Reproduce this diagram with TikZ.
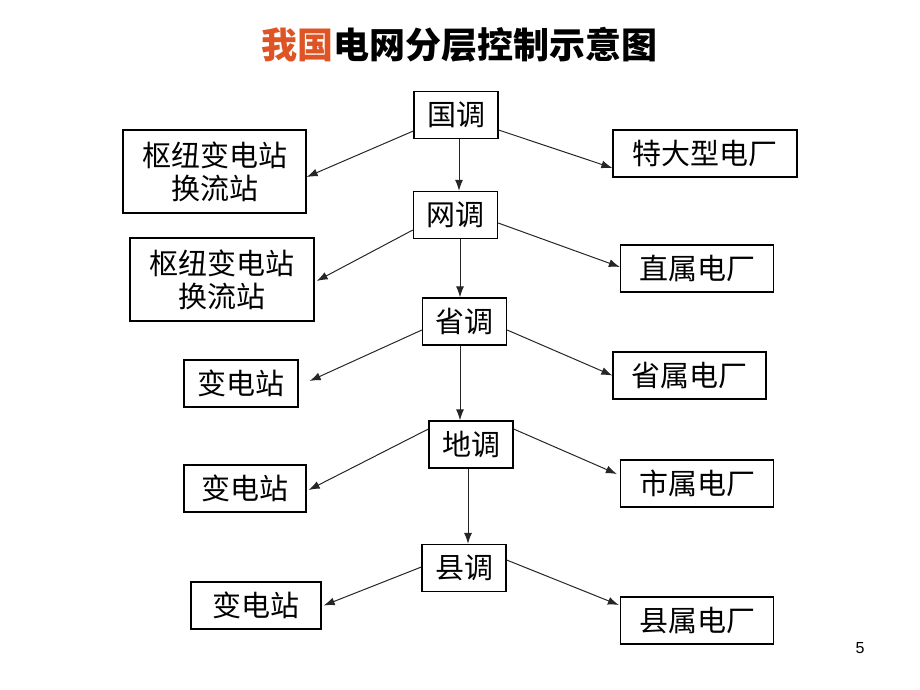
\documentclass[tikz,border=0pt]{standalone}
\usepackage{fontspec}
\setmainfont{Noto Sans CJK SC}
\newfontfamily\numfont{Liberation Sans}
\usetikzlibrary{arrows.meta,calc}
\definecolor{titlered}{RGB}{222,84,36}
\tikzset{
  box/.style = {draw, line width=1.3pt, minimum width=#1, minimum height=47pt,
                inner sep=0pt, align=center, font=\fontsize{29}{33}\selectfont},
  box/.default = 84pt,
  link/.style = {draw=black!85, line width=1pt,
                 -{Latex[length=11pt,width=8pt]}}
}

\begin{document}
\begin{tikzpicture}[x=1pt, y=-1pt]
	\useasboundingbox (0,0) rectangle (920,690);
	
	% Title
	\node (title) at (459,45) {\fontsize{36}{40}\selectfont\bfseries \textcolor{titlered}{我国}电网分层控制示意图};
	
	% Dispatch levels
	\node[box] (guodiao)   at (456,115)   {国调};
	\node[box] (wangdiao)  at (455.5,215) {网调};
	\node[box] (shengdiao) at (464.5,321.5) {省调};
	\node[box] (didiao)    at (471,444.5) {地调};
	\node[box] (xiandiao)  at (464,568)   {县调};
	
	% Substations (left)
	\node[box=183pt, minimum height=83pt] (hub1) at (214.5,171.5) {枢纽变电站\\换流站};
	\node[box=184pt, minimum height=83pt] (hub2) at (222,279.5)   {枢纽变电站\\换流站};
	\node[box=114pt] (sub1) at (241,383.5) {变电站};
	\node[box=122pt] (sub2) at (245,488.5) {变电站};
	\node[box=130pt] (sub3) at (256,605.5) {变电站};
	
	% Power plants (right)
	\node[box=184pt] (plant1) at (705,153.5) {特大型电厂};
	\node[box=153pt] (plant2) at (697,268.5) {直属电厂};
	\node[box=153pt] (plant3) at (689.5,375.5) {省属电厂};
	\node[box=153pt] (plant4) at (697,483.5) {市属电厂};
	\node[box=153pt] (plant5) at (697,620.5) {县属电厂};
	
	% Down the chain
	\draw[link] ([xshift=3pt]guodiao.south)   -- ([xshift=3pt]guodiao.south |- wangdiao.north);
	\draw[link] ([xshift=4.5pt]wangdiao.south) -- ([xshift=4.5pt]wangdiao.south |- shengdiao.north);
	\draw[link] ([xshift=-4.5pt]shengdiao.south) -- ([xshift=-4.5pt]shengdiao.south |- didiao.north);
	\draw[link] ([xshift=-3pt]didiao.south)    -- ([xshift=-3pt]didiao.south |- xiandiao.north);
	
	% To the sides
	\draw[link] ($(guodiao.west)+(0,16)$)    -- ($(hub1.east)+(0,5.5)$);
	\draw[link] ($(guodiao.east)+(0,15)$)    -- ($(plant1.west)+(0,14.5)$);
	\draw[link] ($(wangdiao.west)+(0,15)$)   -- ($(hub2.east)+(2,1.5)$);
	\draw[link] ($(wangdiao.east)+(0,8)$)    -- ($(plant2.west)+(0,-1.5)$);
	\draw[link] ($(shengdiao.west)+(0,8.5)$) -- ($(sub1.east)+(11,-2.5)$);
	\draw[link] ($(shengdiao.east)+(0,8.5)$) -- ($(plant3.west)+(0,0)$);
	\draw[link] ($(didiao.west)+(0,-15.5)$)  -- ($(sub2.east)+(2,1.5)$);
	\draw[link] ($(didiao.east)+(0,-15.5)$)  -- ($(plant4.west)+(-3,-9.5)$);
	\draw[link] ($(xiandiao.west)+(0,-1)$)   -- ($(sub3.east)+(2,0)$);
	\draw[link] ($(xiandiao.east)+(0,-8)$)   -- ($(plant5.west)+(-1,-15.5)$);
	
	% Page number
	\node (pagenum) at (860,648) {\numfont\fontsize{16}{18}\selectfont 5};
	
\end{tikzpicture}
\end{document}
